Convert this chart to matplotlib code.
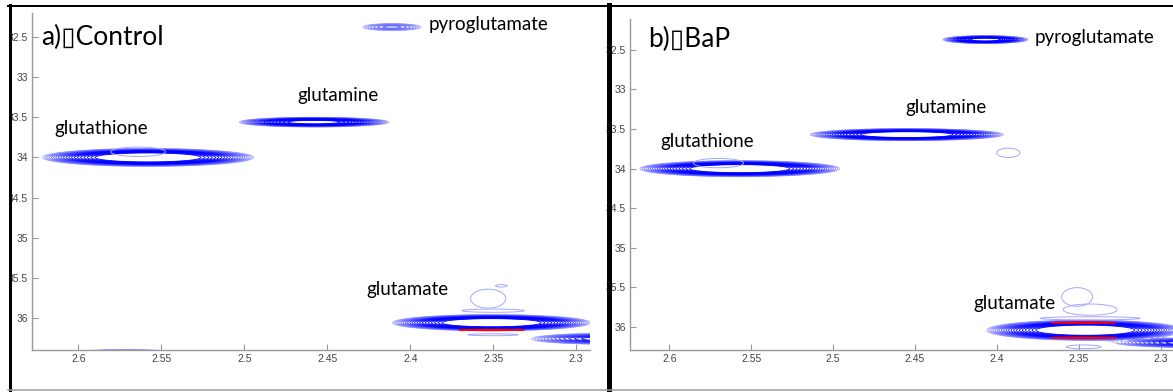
import numpy as np
import matplotlib.pyplot as plt
from matplotlib.lines import Line2D
from matplotlib.patches import Rectangle
from matplotlib.colors import to_rgb

# main 2D peaks, control sample: 1H shift, 13C shift, widths, height
ctrl_h = [2.558, 2.458, 2.411, 2.351, 2.280, 2.572]
ctrl_c = [34.00, 33.56, 32.375, 36.06, 36.26, 36.48]
ctrl_sh = [0.0240, 0.0184, 0.0129, 0.0225, 0.024, 0.020]
ctrl_sc = [0.042, 0.0245, 0.032, 0.038, 0.035, 0.04]
ctrl_amp = [1.0, 0.6, 0.075, 1.0, 0.2, 0.3]
# weak features (single lowest contour)
ctrl_weak_h = [2.564, 2.353, 2.345, 2.350, 2.350]
ctrl_weak_c = [33.93, 35.76, 35.60, 35.91, 36.21]
ctrl_weak_sh = [0.014, 0.009, 0.003, 0.016, 0.013]
ctrl_weak_sc = [0.05, 0.10, 0.013, 0.017, 0.01]
# red (highest) contour
ctrl_red_h = [2.351]
ctrl_red_c = [36.15]

# BaP exposed sample
bap_h = [2.557, 2.455, 2.407, 2.346, 2.280]
bap_c = [34.00, 33.57, 32.37, 36.04, 36.20]
bap_sh = [0.0230, 0.0226, 0.0106, 0.0227, 0.024]
bap_sc = [0.038, 0.029, 0.02, 0.048, 0.03]
bap_amp = [1.0, 0.9, 0.6, 1.0, 0.2]
bap_weak_h = [2.570, 2.393, 2.351, 2.343, 2.343, 2.347]
bap_weak_c = [33.93, 33.80, 35.62, 35.78, 35.89, 36.25]
bap_weak_sh = [0.013, 0.006, 0.008, 0.014, 0.026, 0.009]
bap_weak_sc = [0.05, 0.05, 0.10, 0.06, 0.017, 0.02]
bap_red_h = [2.347, 2.347]
bap_red_c = [35.945, 36.135]

labels = ['glutathione', 'glutamine', 'pyroglutamate', 'glutamate']
ctrl_lab_x = [2.6145, 2.468, 2.389, 2.4265]
ctrl_lab_y = [33.64, 33.225, 32.34, 35.65]
bap_lab_x = [2.6055, 2.456, 2.3768, 2.4146]
bap_lab_y = [33.66, 33.23, 32.34, 35.70]

xticks = [2.6, 2.55, 2.5, 2.45, 2.4, 2.35, 2.3]
yticks = [32.5, 33, 33.5, 34, 34.5, 35, 35.5, 36]

levels = 0.03 * 1.148 ** np.arange(20)
light = np.array(to_rgb('#a4a6ff'))
dark = np.array(to_rgb('#0000ff'))
cols = [tuple(light + (dark - light) * min(1, t * 1.6)) for t in np.linspace(0, 1, len(levels))]

X, Y = np.meshgrid(np.linspace(2.2, 2.7, 1400), np.linspace(31.9, 36.7, 1200))


def field(hs, cs, shs, scs, amps=None):
    if amps is None:
        amps = [1.0] * len(hs)
    z = np.zeros_like(X)
    for h, c, sh, sc, a in zip(hs, cs, shs, scs, amps):
        z += a * np.exp(-(X - h) ** 2 / (2 * sh ** 2) - (Y - c) ** 2 / (2 * sc ** 2))
    return z


def weak(hs, cs, shs, scs):
    return np.array([field([h], [c], [sh], [sc]) for h, c, sh, sc in zip(hs, cs, shs, scs)])


def panel(ax, z, zw, zr, lab_x, lab_y, title, tx, ty, xlim, ylim):
    ax.contour(X, Y, z, levels=levels, colors=cols, linewidths=0.6)
    for k in range(zw.shape[0]):
        ax.contour(X, Y, zw[k], levels=[0.5], colors=[cols[0]], linewidths=0.7)
    ax.contour(X, Y, zr, levels=[0.5], colors='red', linewidths=0.9)
    for t, x, y in zip(labels, lab_x, lab_y):
        ax.text(x, y, t, fontsize=13.5, family=['Lato', 'DejaVu Sans'], ha='left', va='center')
    ax.text(tx, ty, title, fontsize=19, family=['Lato', 'DejaVu Sans'], ha='left', va='center')
    ax.set_xlim(xlim)
    ax.set_ylim(ylim)
    ax.set_xticks(xticks)
    ax.set_xticklabels([f'{v:g}' for v in xticks])
    ax.set_yticks(yticks)
    ax.set_yticklabels([f'{v:g}' for v in yticks])
    for s in ['top', 'right']:
        ax.spines[s].set_visible(False)
    for s in ['left', 'bottom']:
        ax.spines[s].set_color('#999999')
        ax.spines[s].set_linewidth(1.0)
    ax.tick_params(direction='in', length=4, width=0.8, color='#999999',
                   labelsize=7.5, labelcolor='#444444', pad=3)
    for lab in ax.get_xticklabels() + ax.get_yticklabels():
        lab.set_family('Liberation Sans')


W, H = 1173, 392
fig = plt.figure(figsize=(W / 100, H / 100), dpi=100)

ax1 = fig.add_axes([32 / W, 1 - 350 / H, (590 - 32) / W, (350 - 13) / H])
panel(ax1, field(ctrl_h, ctrl_c, ctrl_sh, ctrl_sc, ctrl_amp),
      weak(ctrl_weak_h, ctrl_weak_c, ctrl_weak_sh, ctrl_weak_sc),
      field(ctrl_red_h, ctrl_red_c, [0.017], [0.006]),
      ctrl_lab_x, ctrl_lab_y, 'a)\u25afControl', 2.6223, 32.5, (2.628, 2.2916), (36.4, 32.2))

ax2 = fig.add_axes([630 / W, 1 - 350 / H, (1177 - 630) / W, (350 - 19) / H])
panel(ax2, field(bap_h, bap_c, bap_sh, bap_sc, bap_amp),
      weak(bap_weak_h, bap_weak_c, bap_weak_sh, bap_weak_sc),
      field(bap_red_h, bap_red_c, [0.017, 0.017], [0.006, 0.006]),
      bap_lab_x, bap_lab_y, 'b)\u25afBaP', 2.6128, 32.37, (2.624, 2.29), (36.29, 32.11))

# outer frames
fig.add_artist(Rectangle((0, 0), 8 / W, 1, transform=fig.transFigure, color='white', zorder=10))
px = 0.72
fig.add_artist(Line2D([8 / W, 1], [1 - 6 / H, 1 - 6 / H], transform=fig.transFigure,
                      color='black', lw=2 * px, zorder=11))
fig.add_artist(Line2D([9.5 / W, 9.5 / W], [0, 1 - 5 / H], transform=fig.transFigure,
                      color='black', lw=3 * px, zorder=11))
fig.add_artist(Line2D([608.5 / W, 608.5 / W], [0, 1 - 5 / H], transform=fig.transFigure,
                      color='black', lw=5 * px, zorder=11))
fig.add_artist(Line2D([8 / W, 1], [1 - 390 / H, 1 - 390 / H], transform=fig.transFigure,
                      color='#999999', lw=1.5 * px, zorder=11))

fig.savefig('out.png', dpi=100)
